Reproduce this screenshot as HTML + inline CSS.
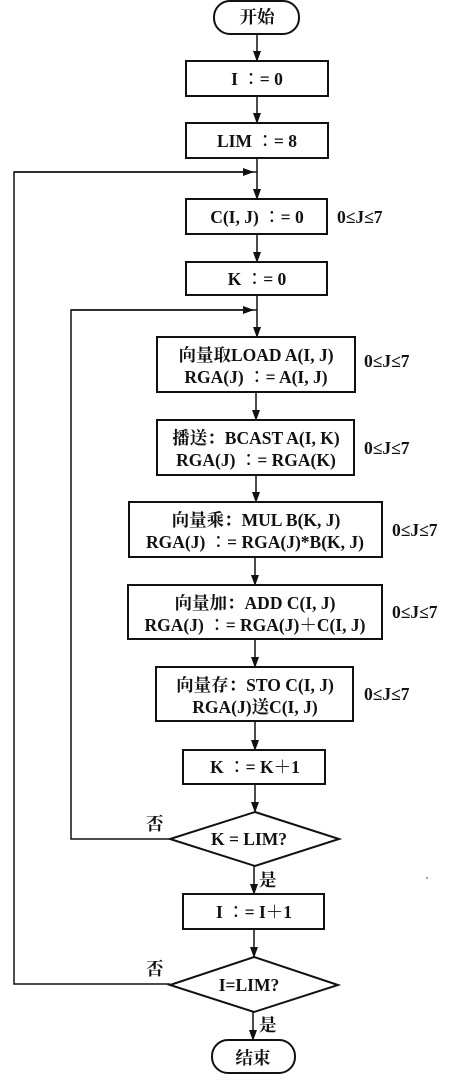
<!DOCTYPE html>
<html><head><meta charset="utf-8"><style>
body{margin:0;background:#fff}
svg text{font-family:"Liberation Serif","Noto Serif CJK SC",serif;font-weight:bold;font-size:17.5px;fill:#111}
</style></head><body>
<svg width="465" height="1081" viewBox="0 0 465 1081" xmlns="http://www.w3.org/2000/svg">
<defs><marker id="a" markerWidth="11" markerHeight="8" refX="10" refY="4" orient="auto" markerUnits="userSpaceOnUse"><path d="M0,0 L11,4 L0,8 Z" fill="#111"/></marker></defs>
<g stroke="#111" stroke-width="2" fill="none">
<rect x="214" y="1" width="85" height="33" rx="16"/>
<rect x="186" y="61" width="142" height="35"/>
<rect x="186" y="123" width="142" height="35"/>
<rect x="186" y="199" width="141" height="35"/>
<rect x="186" y="262" width="141" height="33"/>
<rect x="157" y="337" width="198" height="55"/>
<rect x="157" y="420" width="197" height="55"/>
<rect x="129" y="502" width="253" height="55"/>
<rect x="128" y="585" width="254" height="54"/>
<rect x="156" y="667" width="197" height="54"/>
<rect x="183" y="750" width="142" height="34"/>
<path d="M255,812 L339,839 L255,866 L170,839 Z"/>
<rect x="183" y="894" width="141" height="35"/>
<path d="M254,957 L338,985 L254,1012 L170,985 Z"/>
<rect x="212" y="1040" width="83" height="33" rx="16"/>
</g>
<g stroke="#111" stroke-width="1.5" fill="none">
<line x1="257" y1="34" x2="257" y2="61" marker-end="url(#a)"/>
<line x1="257" y1="96" x2="257" y2="123" marker-end="url(#a)"/>
<line x1="257" y1="158" x2="257" y2="199" marker-end="url(#a)"/>
<line x1="257" y1="234" x2="257" y2="262" marker-end="url(#a)"/>
<line x1="257" y1="295" x2="257" y2="337" marker-end="url(#a)"/>
<line x1="256" y1="392" x2="256" y2="420" marker-end="url(#a)"/>
<line x1="256" y1="475" x2="256" y2="502" marker-end="url(#a)"/>
<line x1="255" y1="557" x2="255" y2="585" marker-end="url(#a)"/>
<line x1="255" y1="639" x2="255" y2="667" marker-end="url(#a)"/>
<line x1="255" y1="721" x2="255" y2="750" marker-end="url(#a)"/>
<line x1="255" y1="784" x2="255" y2="812" marker-end="url(#a)"/>
<line x1="254" y1="866" x2="254" y2="894" marker-end="url(#a)"/>
<line x1="254" y1="929" x2="254" y2="957" marker-end="url(#a)"/>
<line x1="253" y1="1012" x2="253" y2="1040" marker-end="url(#a)"/>
<polyline points="170,839 71,839 71,310 257,310"/>
<line x1="71" y1="310" x2="253" y2="310" marker-end="url(#a)"/>
<polyline points="170,984 14,984 14,172 257,172"/>
<line x1="14" y1="172" x2="253" y2="172" marker-end="url(#a)"/>
</g>
<g text-anchor="middle">
<text x="257" y="23">开始</text>
<text x="257" y="85">I ∶= 0</text>
<text x="257" y="147">LIM ∶= 8</text>
<text x="257" y="223">C(I, J) ∶= 0</text>
<text x="257" y="285">K ∶= 0</text>
<text x="256" y="361">向量取LOAD A(I, J)</text>
<text x="256" y="383">RGA(J) ∶= A(I, J)</text>
<text x="256" y="444">播送：BCAST A(I, K)</text>
<text x="256" y="466">RGA(J) ∶= RGA(K)</text>
<text x="256" y="526">向量乘：MUL B(K, J)</text>
<text x="255" y="548">RGA(J) ∶= RGA(J)*B(K, J)</text>
<text x="255" y="609">向量加：ADD C(I, J)</text>
<text x="255" y="631">RGA(J) ∶= RGA(J)＋C(I, J)</text>
<text x="255" y="691">向量存：STO C(I, J)</text>
<text x="255" y="713">RGA(J)送C(I, J)</text>
<text x="255" y="773">K ∶= K＋1</text>
<text x="249" y="845">K = LIM?</text>
<text x="254" y="918">I ∶= I＋1</text>
<text x="249" y="991">I=LIM?</text>
<text x="253" y="1064">结束</text>
</g>
<text x="337" y="223">0≤J≤7</text>
<text x="364" y="367">0≤J≤7</text>
<text x="364" y="454">0≤J≤7</text>
<text x="392" y="536">0≤J≤7</text>
<text x="392" y="618">0≤J≤7</text>
<text x="364" y="700">0≤J≤7</text>
<text x="146" y="830">否</text>
<text x="146" y="975">否</text>
<text x="259" y="886">是</text>
<text x="259" y="1031">是</text>
<circle cx="427" cy="878" r="0.8" fill="#333"/>
</svg>
</body></html>
